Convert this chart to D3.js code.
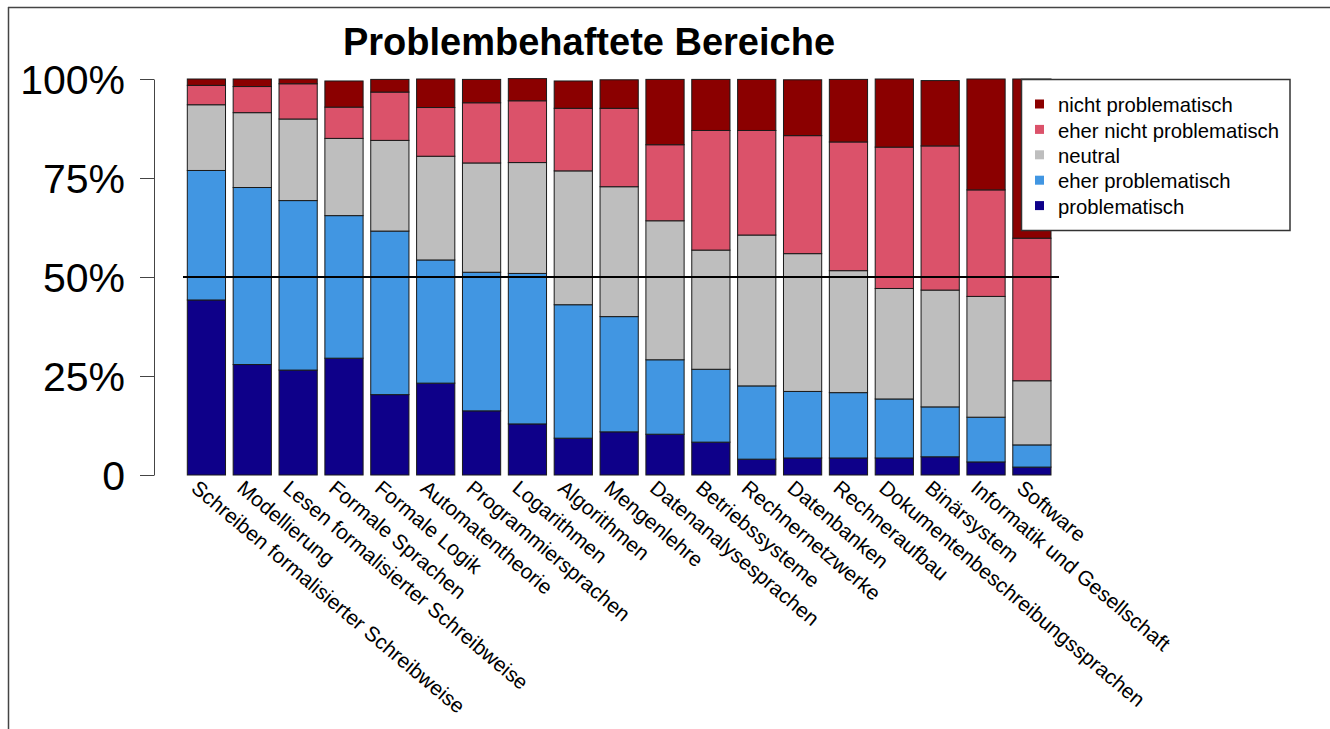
<!DOCTYPE html>
<html>
<head>
<meta charset="utf-8">
<script src="https://cdn.jsdelivr.net/npm/d3@7"></script>
<style>
  body { margin: 0; background: #fff; }
  svg { font-family: "Liberation Sans", Arial, sans-serif; }
</style>
</head>
<body>
<div id="chart"></div>
<script>
// Kategorien (x-Achse)
const categories = [
    "Schreiben formalisierter Schreibweise", "Modellierung", "Lesen formalisierter Schreibweise",
    "Formale Sprachen", "Formale Logik", "Automatentheorie", "Programmiersprachen", "Logarithmen",
    "Algorithmen", "Mengenlehre", "Datenanalysesprachen", "Betriebssysteme", "Rechnernetzwerke",
    "Datenbanken", "Rechneraufbau", "Dokumentenbeschreibungssprachen", "Binärsystem",
    "Informatik und Gesellschaft", "Software"
];

// Anteile je Antwortstufe (von unten nach oben gestapelt)
const problematisch = [0.442, 0.279, 0.265, 0.295, 0.203, 0.232, 0.162, 0.129, 0.093, 0.109,
    0.103, 0.083, 0.040, 0.043, 0.043, 0.043, 0.046, 0.033, 0.020];
const eherProblematisch = [0.327, 0.447, 0.428, 0.360, 0.413, 0.311, 0.350, 0.380, 0.337, 0.291,
    0.188, 0.184, 0.185, 0.168, 0.165, 0.149, 0.126, 0.113, 0.056];
const neutral = [0.166, 0.189, 0.206, 0.195, 0.229, 0.262, 0.276, 0.280, 0.338, 0.328,
    0.351, 0.301, 0.381, 0.348, 0.308, 0.279, 0.295, 0.305, 0.162];
const eherNichtProblematisch = [0.049, 0.066, 0.089, 0.079, 0.122, 0.123, 0.152, 0.156, 0.158, 0.198,
    0.192, 0.302, 0.264, 0.298, 0.325, 0.357, 0.364, 0.269, 0.360];
const nichtProblematisch = [0.016, 0.019, 0.012, 0.066, 0.032, 0.072, 0.059, 0.056, 0.069, 0.072,
    0.165, 0.129, 0.129, 0.141, 0.158, 0.172, 0.165, 0.280, 0.402];

const seriesNames = ["problematisch", "eher problematisch", "neutral",
    "eher nicht problematisch", "nicht problematisch"];
const seriesColors = ["#0e0089", "#4196e2", "#bebebe", "#db526a", "#8b0000"];

const tickValues = [0, 0.25, 0.5, 0.75, 1];
const tickLabels = ["0", "25%", "50%", "75%", "100%"];

// Tabelle für d3.stack
const table = categories.map((c, i) => ({
    category: c,
    "problematisch": problematisch[i],
    "eher problematisch": eherProblematisch[i],
    "neutral": neutral[i],
    "eher nicht problematisch": eherNichtProblematisch[i],
    "nicht problematisch": nichtProblematisch[i]
}));

const width = 1330, height = 729;

const svg = d3.select("#chart").append("svg")
    .attr("width", width)
    .attr("height", height);

// Rahmen (oben und links)
svg.append("line")
    .attr("x1", 8).attr("x2", width).attr("y1", 7.5).attr("y2", 7.5)
    .attr("stroke", "#444").attr("stroke-width", 1.5);
svg.append("line")
    .attr("x1", 8.5).attr("x2", 8.5).attr("y1", 7).attr("y2", height)
    .attr("stroke", "#444").attr("stroke-width", 1.5);

const x = d3.scaleBand()
    .domain(categories)
    .range([187.3, 1051])
    .paddingInner(0.2 / 1.2)
    .paddingOuter(0);

const y = d3.scaleLinear()
    .domain([0, 1])
    .range([475, 79]);

const color = d3.scaleOrdinal().domain(seriesNames).range(seriesColors);

const stacked = d3.stack().keys(seriesNames)(table);

// Balken
svg.append("g")
    .selectAll("g")
    .data(stacked)
    .join("g")
    .attr("fill", d => color(d.key))
    .selectAll("rect")
    .data(d => d)
    .join("rect")
    .attr("x", d => x(d.data.category))
    .attr("y", d => y(d[1]))
    .attr("width", x.bandwidth())
    .attr("height", d => y(d[0]) - y(d[1]))
    .attr("stroke", "#1a1a1a")
    .attr("stroke-width", 1);

// 50%-Linie
svg.append("line")
    .attr("x1", 183).attr("x2", 1059)
    .attr("y1", y(0.5)).attr("y2", y(0.5))
    .attr("stroke", "#000")
    .attr("stroke-width", 2);

// y-Achse
const yAxis = d3.axisLeft(y)
    .tickValues(tickValues)
    .tickFormat((d, i) => tickLabels[i])
    .tickSizeInner(14)
    .tickSizeOuter(0)
    .tickPadding(15);

const yAxisG = svg.append("g")
    .attr("transform", "translate(154,0)")
    .call(yAxis);
yAxisG.selectAll("path, line").attr("stroke", "#444");
yAxisG.selectAll("text")
    .attr("font-size", "41px")
    .attr("font-family", "Liberation Sans, Arial, sans-serif")
    .attr("fill", "#000")
    .attr("dy", "0.36em");

// Kategorie-Beschriftungen (gedreht)
svg.append("g")
    .selectAll("text")
    .data(categories)
    .join("text")
    .attr("transform", d => `translate(${x(d) + 12},479) rotate(40)`)
    .attr("dy", "0.7em")
    .attr("text-anchor", "start")
    .attr("font-size", "20.8px")
    .attr("fill", "#000")
    .text(d => d);

// Titel
svg.append("text")
    .attr("x", 589)
    .attr("y", 55)
    .attr("text-anchor", "middle")
    .attr("font-size", "38px")
    .attr("font-weight", "bold")
    .attr("fill", "#000")
    .text("Problembehaftete Bereiche");

// Legende (über dem letzten Balken)
const legend = svg.append("g");
legend.append("rect")
    .attr("x", 1021.5).attr("y", 79.5)
    .attr("width", 268.5).attr("height", 151)
    .attr("fill", "#fff")
    .attr("stroke", "#333")
    .attr("stroke-width", 1.5);

const legendOrder = seriesNames.slice().reverse();
legendOrder.forEach((name, i) => {
    const cy = 105 + i * 25.4;
    legend.append("rect")
        .attr("x", 1035).attr("y", cy - 5.5)
        .attr("width", 9).attr("height", 9)
        .attr("fill", color(name));
    legend.append("text")
        .attr("x", 1058)
        .attr("y", cy)
        .attr("dy", "0.35em")
        .attr("font-size", "20.3px")
        .attr("fill", "#000")
        .text(name);
});
</script>
</body>
</html>
